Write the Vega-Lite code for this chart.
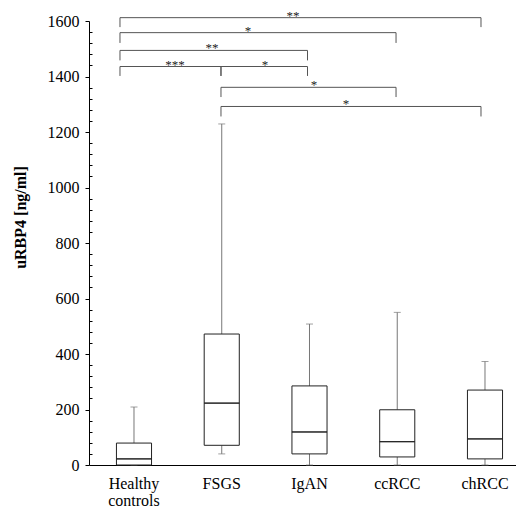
{
  "$schema": "https://vega.github.io/schema/vega-lite/v6.json",
  "width": 427,
  "height": 444,
  "autosize": {"type": "none"},
  "padding": {"left": 89, "top": 21, "right": 0, "bottom": 46},
  "background": "white",
  "config": {"view": {"stroke": null}, "font": "Liberation Serif"},
  "datasets": {
    "boxes": [
      {"group": "Healthy controls", "min": 0, "q1": 0, "median": 22, "q3": 79, "max": 209},
      {"group": "FSGS", "min": 40, "q1": 71, "median": 223, "q3": 472, "max": 1229},
      {"group": "IgAN", "min": 0, "q1": 40, "median": 119, "q3": 285, "max": 508},
      {"group": "ccRCC", "min": 0, "q1": 29, "median": 84, "q3": 199, "max": 550},
      {"group": "chRCC", "min": 0, "q1": 22, "median": 94, "q3": 270, "max": 373}
    ],
    "brackets": [
      {"x1": 0.84, "x2": 4.954, "top": 1612, "bottom": 1578, "stars": "**", "lx": 2.812},
      {"x1": 0.84, "x2": 3.986, "top": 1558, "bottom": 1521, "stars": "*", "lx": 2.299},
      {"x1": 0.84, "x2": 2.977, "top": 1494, "bottom": 1458, "stars": "**", "lx": 1.889},
      {"x1": 0.84, "x2": 1.991, "top": 1436, "bottom": 1402, "stars": "***", "lx": 1.467},
      {"x1": 1.991, "x2": 2.977, "top": 1436, "bottom": 1402, "stars": "*", "lx": 2.493},
      {"x1": 1.991, "x2": 3.986, "top": 1361, "bottom": 1326, "stars": "*", "lx": 3.051},
      {"x1": 1.991, "x2": 4.954, "top": 1292, "bottom": 1256, "stars": "*", "lx": 3.416}
    ]
  },
  "layer": [
    {
      "data": {"name": "boxes"},
      "encoding": {
        "x": {
          "field": "group",
          "type": "nominal",
          "sort": null,
          "scale": {"paddingInner": 0.6, "paddingOuter": 0.233, "align": 0.671},
          "axis": {
            "title": null,
            "ticks": false,
            "domainColor": "black",
            "labelFontSize": 16,
            "labelColor": "black",
            "labelPadding": 10,
            "labelFont": "Liberation Serif",
            "labelAngle": 0,
            "labelBaseline": "top",
            "labelLineHeight": 17,
            "labelExpr": "datum.value == 'Healthy controls' ? ['Healthy', 'controls'] : datum.value"
          }
        }
      },
      "layer": [
        {
          "mark": {"type": "rule", "color": "#777", "strokeWidth": 1},
          "encoding": {
            "y": {
              "field": "max",
              "type": "quantitative",
              "scale": {"domain": [0, 1600], "nice": false},
              "axis": {
                "title": "uRBP4 [ng/ml]",
                "values": [0,40,80,120,160,200,240,280,320,360,400,440,480,520,560,600,640,680,720,760,800,840,880,920,960,1000,1040,1080,1120,1160,1200,1240,1280,1320,1360,1400,1440,1480,1520,1560,1600],
                "labelExpr": "datum.value % 200 === 0 ? datum.label : ''",
                "format": "d",
                "tickSize": {"condition": {"test": "datum.value % 200 === 0", "value": 4}, "value": -3},
                "grid": false,
                "labelOverlap": false,
                "labelFlush": false,
                "labelBound": false,
                "domainColor": "black",
                "tickColor": "black",
                "labelFontSize": 16,
                "labelColor": "black",
                "labelPadding": 6,
                "labelFont": "Liberation Serif",
                "titleFont": "Liberation Serif",
                "titleFontSize": 16,
                "titleFontWeight": "bold",
                "titleColor": "black",
                "titleX": -61,
                "titleY": 196
              }
            },
            "y2": {"field": "q3"}
          }
        },
        {
          "mark": {"type": "rule", "color": "#777", "strokeWidth": 1},
          "encoding": {
            "y": {"field": "min", "type": "quantitative", "axis": null},
            "y2": {"field": "q1"}
          }
        },
        {
          "mark": {"type": "tick", "color": "#777", "size": 7, "thickness": 1},
          "encoding": {"y": {"field": "max", "type": "quantitative", "axis": null}}
        },
        {
          "mark": {"type": "tick", "color": "#777", "size": 7, "thickness": 1},
          "encoding": {"y": {"field": "min", "type": "quantitative", "axis": null}}
        },
        {
          "mark": {"type": "bar", "fill": "white", "stroke": "#222", "strokeWidth": 1},
          "encoding": {
            "y": {"field": "q1", "type": "quantitative", "axis": null},
            "y2": {"field": "q3"}
          }
        },
        {
          "mark": {"type": "bar", "fill": "white", "stroke": "#222", "strokeWidth": 1},
          "encoding": {
            "y": {"field": "median", "type": "quantitative", "axis": null},
            "y2": {"field": "median"}
          }
        }
      ],
      "resolve": {"axis": {"y": "independent"}}
    },
    {
      "data": {"name": "brackets"},
      "layer": [
        {
          "mark": {"type": "rule", "color": "#555", "strokeWidth": 1},
          "encoding": {
            "x": {"field": "x1", "type": "quantitative", "scale": {"domain": [0.487, 5.353], "nice": false, "zero": false}, "axis": null},
            "x2": {"field": "x2"},
            "y": {"field": "top", "type": "quantitative", "axis": null}
          }
        },
        {
          "mark": {"type": "rule", "color": "#555", "strokeWidth": 1},
          "encoding": {
            "x": {"field": "x1", "type": "quantitative", "axis": null},
            "y": {"field": "top", "type": "quantitative", "axis": null},
            "y2": {"field": "bottom"}
          }
        },
        {
          "mark": {"type": "rule", "color": "#555", "strokeWidth": 1},
          "encoding": {
            "x": {"field": "x2", "type": "quantitative", "axis": null},
            "y": {"field": "top", "type": "quantitative", "axis": null},
            "y2": {"field": "bottom"}
          }
        },
        {
          "mark": {"type": "text", "fill": "#222", "fontSize": 13, "font": "Liberation Serif", "baseline": "alphabetic", "dy": 2},
          "encoding": {
            "x": {"field": "lx", "type": "quantitative", "axis": null},
            "y": {"field": "top", "type": "quantitative", "axis": null},
            "text": {"field": "stars"}
          }
        }
      ],
      "resolve": {"axis": {"y": "independent", "x": "independent"}}
    }
  ],
  "resolve": {"scale": {"x": "independent"}, "axis": {"y": "independent"}}
}
